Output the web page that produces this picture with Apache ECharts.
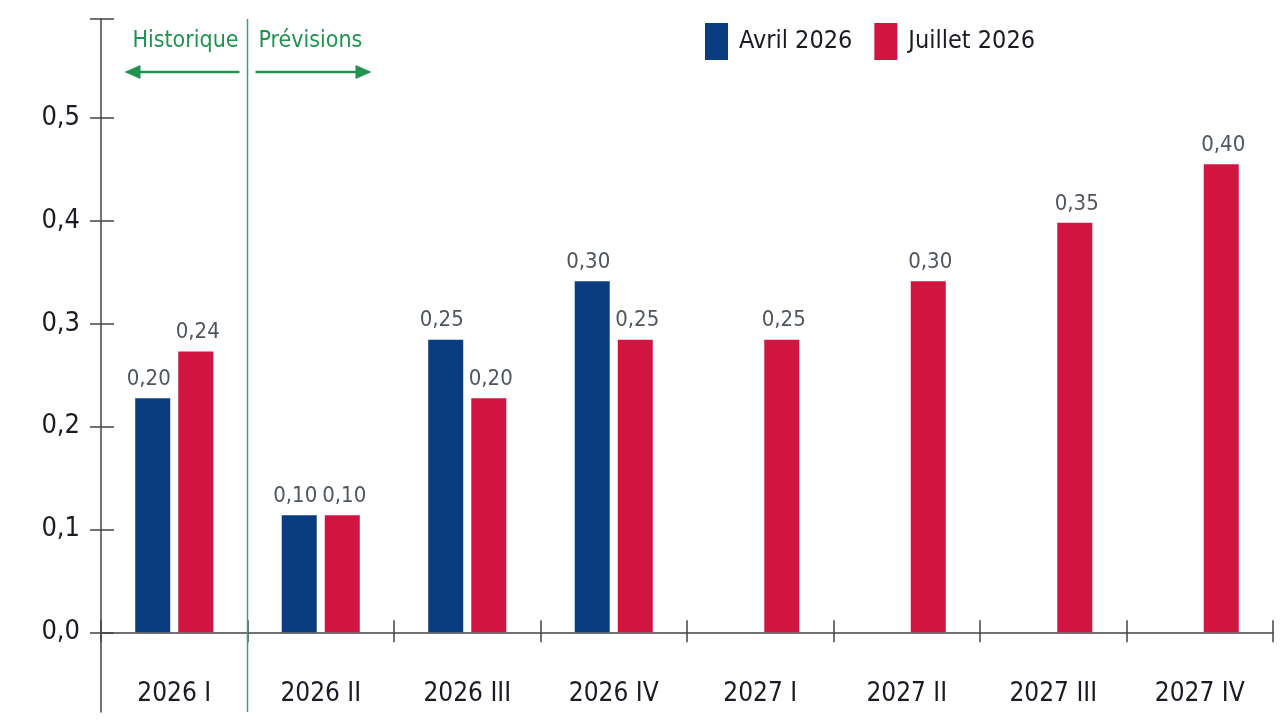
<!DOCTYPE html>
<html lang="fr">
<head>
<meta charset="UTF-8">
<title>Avril / Juillet 2026</title>
<script src="https://cdn.jsdelivr.net/npm/echarts@6/dist/echarts.min.js"></script>
<style>
  html, body { margin: 0; padding: 0; background: #fff; }
  #chart { width: 1280px; height: 720px; }
</style>
</head>
<body>
<div id="chart"></div>
<script>
// trimestres et valeurs
const categories = ['2026 I', '2026 II', '2026 III', '2026 IV', '2027 I', '2027 II', '2027 III', '2027 IV'];
const avril = [0.20, 0.10, 0.25, 0.30, null, null, null, null];
const juillet = [0.24, 0.10, 0.20, 0.25, 0.25, 0.30, 0.35, 0.40];
const yTicks = [0, 0.1, 0.2, 0.3, 0.4, 0.5];
const seriesNames = ['Avril 2026', 'Juillet 2026'];
const zoneLabels = ['Historique', 'Prévisions'];

const FONT = '"DejaVu Sans Condensed", "Liberation Sans Narrow", Roboto, sans-serif';
const AXIS = '#444';
const GREEN = '#1f934f';
const yMin = -0.0775, yMax = 0.596;
// in the source the bars are drawn ~14% taller than the value axis says
const barScale = 1.137;

const fmt = (v, d) => v.toFixed(d).replace('.', ',');

const chart = echarts.init(document.getElementById('chart'));

function valueLabel(dx) {
    return {
        show: true,
        position: 'top',
        distance: 8,
        offset: [dx, 0],
        color: '#50565e',
        fontSize: 22,
        fontFamily: FONT,
        formatter: p => (p.value == null ? '' : fmt(p.value, 2))
    };
}

option = {
    backgroundColor: '#fff',
    animation: false,
    grid: { left: 101, right: 7, top: 19, bottom: 8, containLabel: false, outerBoundsMode: 'none' },
    legend: {
        left: 700,
        top: 18,
        icon: 'rect',
        itemWidth: 23,
        itemHeight: 37,
        itemGap: 22,
        data: seriesNames,
        textStyle: { fontSize: 25, color: '#1a1a22', fontFamily: FONT, padding: [10, 0, 0, 6] }
    },
    xAxis: [
        {
            type: 'category',
            data: categories,
            axisLine: { onZero: true, onZeroAxisIndex: 0, lineStyle: { color: AXIS, width: 1.5 } },
            axisTick: { show: true, interval: 0, alignWithLabel: false, length: 10, lineStyle: { color: AXIS, width: 1.5 } },
            // labels sit from the bottom edge of the grid, not from the zero line
            axisLabel: { interval: 0, margin: -31, fontSize: 26, color: '#1b1b24', fontFamily: FONT },
            splitLine: { show: false }
        },
        {
            // same axis again, only for the ticks above the line
            type: 'category',
            data: categories,
            position: 'bottom',
            axisLine: { show: false, onZero: true, onZeroAxisIndex: 0 },
            axisTick: { show: true, inside: true, interval: 0, alignWithLabel: false, length: 12, lineStyle: { color: AXIS, width: 1.5 } },
            axisLabel: { show: false },
            splitLine: { show: false }
        }
    ],
    yAxis: [
        {
            type: 'value',
            min: yMin,
            max: yMax,
            position: 'left',
            axisLine: { show: true, onZero: false, lineStyle: { color: AXIS, width: 1.5 } },
            axisTick: { show: true, length: 11, customValues: yTicks.concat([yMax]), lineStyle: { color: AXIS, width: 1.5 } },
            axisLabel: {
                customValues: yTicks,
                margin: 21,
                fontSize: 27,
                color: '#1b1b24',
                fontFamily: FONT,
                formatter: v => fmt(v, 1)
            },
            splitLine: { show: false }
        },
        {
            type: 'value',
            min: yMin,
            max: yMax,
            position: 'left',
            axisLine: { show: false, onZero: false },
            axisTick: { show: true, inside: true, length: 13, customValues: yTicks.concat([yMax]), lineStyle: { color: AXIS, width: 1.5 } },
            axisLabel: { show: false },
            splitLine: { show: false }
        },
        {
            // scale used by the bars
            type: 'value',
            show: false,
            min: yMin / barScale,
            max: yMax / barScale,
            splitLine: { show: false }
        }
    ],
    series: [
        {
            name: seriesNames[0],
            type: 'bar',
            xAxisIndex: 0,
            yAxisIndex: 2,
            data: avril,
            barWidth: 35,
            barGap: '23%',
            itemStyle: { color: '#0a3c80' },
            label: valueLabel(-4)
        },
        {
            name: seriesNames[1],
            type: 'bar',
            xAxisIndex: 0,
            yAxisIndex: 2,
            data: juillet,
            barWidth: 35,
            barGap: '23%',
            itemStyle: { color: '#d21441' },
            label: valueLabel(2)
        }
    ]
};

chart.setOption(option);

// séparation historique / prévisions, entre les deux premiers trimestres
const xb = (chart.convertToPixel({ xAxisIndex: 0 }, categories[0]) + chart.convertToPixel({ xAxisIndex: 0 }, categories[1])) / 2;
const yTop = chart.convertToPixel({ yAxisIndex: 0 }, yMax);
const yBot = chart.convertToPixel({ yAxisIndex: 0 }, yMin);
const ya = 72;

chart.setOption({
    graphic: [
        { type: 'line', shape: { x1: xb, y1: yTop, x2: xb, y2: yBot }, style: { stroke: '#3aa56a', lineWidth: 1.5 }, z: 10 },
        { type: 'text', x: xb - 9, y: 41, style: { text: zoneLabels[0], fill: GREEN, font: '23px ' + FONT, align: 'right', verticalAlign: 'middle' } },
        { type: 'text', x: xb + 11, y: 41, style: { text: zoneLabels[1], fill: GREEN, font: '23px ' + FONT, align: 'left', verticalAlign: 'middle' } },
        { type: 'line', shape: { x1: xb - 8, y1: ya, x2: xb - 112, y2: ya }, style: { stroke: GREEN, lineWidth: 2.5 } },
        { type: 'polygon', shape: { points: [[xb - 123, ya], [xb - 107, ya - 7], [xb - 107, ya + 7]] }, style: { fill: GREEN } },
        { type: 'line', shape: { x1: xb + 8, y1: ya, x2: xb + 112, y2: ya }, style: { stroke: GREEN, lineWidth: 2.5 } },
        { type: 'polygon', shape: { points: [[xb + 124, ya], [xb + 108, ya - 7], [xb + 108, ya + 7]] }, style: { fill: GREEN } }
    ]
});
</script>
</body>
</html>
